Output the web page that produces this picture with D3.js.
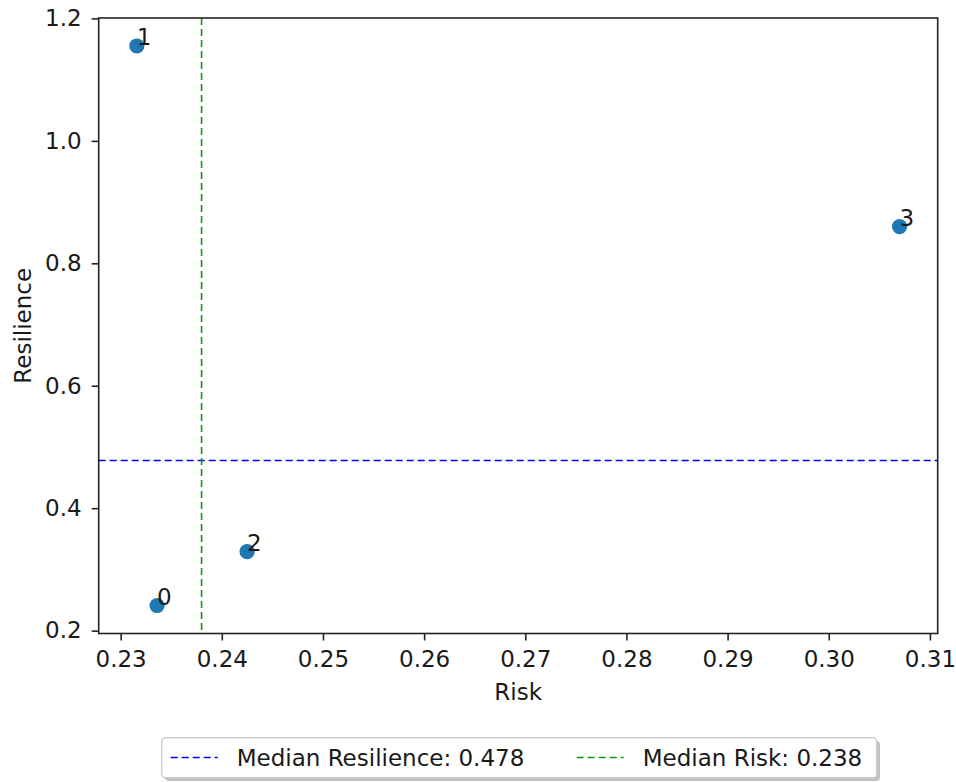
<!DOCTYPE html>
<html>
<head>
<meta charset="utf-8">
<script src="https://cdn.jsdelivr.net/npm/d3@7"></script>
<style>
  body { margin: 0; background: #fff; }
  text { font-family: "DejaVu Sans", sans-serif; fill: #1a1a1a; }
</style>
</head>
<body>
<div id="chart"></div>
<script>
'use strict'
// point data
var ids = ['0', '1', '2', '3']
var risk = [0.2336, 0.2316, 0.2425, 0.3070]
var resilience = [0.241, 1.155, 0.329, 0.860]
var medianRisk = 0.238
var medianResilience = 0.478
var xTicks = [0.23, 0.24, 0.25, 0.26, 0.27, 0.28, 0.29, 0.30, 0.31]
var yTicks = [0.2, 0.4, 0.6, 0.8, 1.0, 1.2]

var W = 956, H = 782
var fs = 23
var pLeft = 98.7, pRight = 937.7, pTop = 18, pBottom = 633.5
var dash = '7,4'

var svg = d3.select('#chart').append('svg')
            .attr('width', W)
            .attr('height', H)

// matplotlib-style 5% margins around the data
var xr = d3.extent(risk), yr = d3.extent(resilience)
var xpad = (xr[1] - xr[0]) * 0.05, ypad = (yr[1] - yr[0]) * 0.05
var x = d3.scaleLinear().domain([xr[0] - xpad, xr[1] + xpad]).range([pLeft, pRight])
var y = d3.scaleLinear().domain([yr[0] - ypad, yr[1] + ypad]).range([pBottom, pTop])

// axes
var xAxis = d3.axisBottom(x).tickValues(xTicks).tickFormat(d3.format('.2f')).tickSize(7).tickPadding(10)
var yAxis = d3.axisLeft(y).tickValues(yTicks).tickFormat(d3.format('.1f')).tickSize(7).tickPadding(10)

var gx = svg.append('g').attr('transform', 'translate(0,' + pBottom + ')').call(xAxis)
var gy = svg.append('g').attr('transform', 'translate(' + pLeft + ',0)').call(yAxis)
;[gx, gy].forEach(function (g) {
  g.select('.domain').remove()
  g.selectAll('line').attr('stroke', '#222').attr('stroke-width', 1.6)
  g.selectAll('text').attr('font-size', fs).attr('font-family', '"DejaVu Sans", sans-serif').attr('fill', '#1a1a1a')
})

// median lines
svg.append('line')
   .attr('x1', pLeft).attr('x2', pRight)
   .attr('y1', y(medianResilience)).attr('y2', y(medianResilience))
   .attr('stroke', '#0000ff').attr('stroke-width', 1.6)
   .attr('stroke-dasharray', dash)
svg.append('line')
   .attr('x1', x(medianRisk)).attr('x2', x(medianRisk))
   .attr('y1', pTop).attr('y2', pBottom)
   .attr('stroke', '#119911').attr('stroke-width', 1.6)
   .attr('stroke-dasharray', dash)

// points and labels
svg.selectAll('circle.pt').data(ids).enter().append('circle')
   .attr('class', 'pt')
   .attr('cx', function (d, i) { return x(risk[i]) })
   .attr('cy', function (d, i) { return y(resilience[i]) })
   .attr('r', 7.6)
   .attr('fill', '#1f77b4')

svg.selectAll('text.lbl').data(ids).enter().append('text')
   .attr('class', 'lbl')
   .attr('x', function (d, i) { return x(risk[i]) })
   .attr('y', function (d, i) { return y(resilience[i]) - 1 })
   .attr('font-size', fs)
   .text(function (d) { return d })

// frame
svg.append('rect')
   .attr('x', pLeft).attr('y', pTop)
   .attr('width', pRight - pLeft).attr('height', pBottom - pTop)
   .attr('fill', 'none').attr('stroke', '#222').attr('stroke-width', 1.6)

// axis labels
svg.append('text')
   .attr('x', (pLeft + pRight) / 2).attr('y', 700)
   .attr('text-anchor', 'middle').attr('font-size', fs)
   .text('Risk')
svg.append('text')
   .attr('transform', 'translate(31,' + (pTop + pBottom) / 2 + ') rotate(-90)')
   .attr('text-anchor', 'middle').attr('font-size', fs)
   .text('Resilience')

// legend
var lg = svg.append('g')
lg.append('rect')
  .attr('x', 165).attr('y', 741).attr('width', 715).attr('height', 40)
  .attr('rx', 4).attr('fill', '#999').attr('opacity', 0.6)
lg.append('rect')
  .attr('x', 161.7).attr('y', 737.7).attr('width', 715).attr('height', 40)
  .attr('rx', 4).attr('fill', '#fff').attr('stroke', '#ccc').attr('stroke-width', 1.4)

var legendItems = [
  { label: 'Median Resilience: ' + d3.format('.3f')(medianResilience), color: '#0000ff', x: 170.7 },
  { label: 'Median Risk: ' + d3.format('.3f')(medianRisk), color: '#119911', x: 576.7 }
]
legendItems.forEach(function (it) {
  lg.append('line')
    .attr('x1', it.x).attr('x2', it.x + 47)
    .attr('y1', 757.5).attr('y2', 757.5)
    .attr('stroke', it.color).attr('stroke-width', 1.6)
    .attr('stroke-dasharray', dash)
  lg.append('text')
    .attr('x', it.x + 66).attr('y', 765.5)
    .attr('font-size', fs)
    .text(it.label)
})
</script>
</body>
</html>
